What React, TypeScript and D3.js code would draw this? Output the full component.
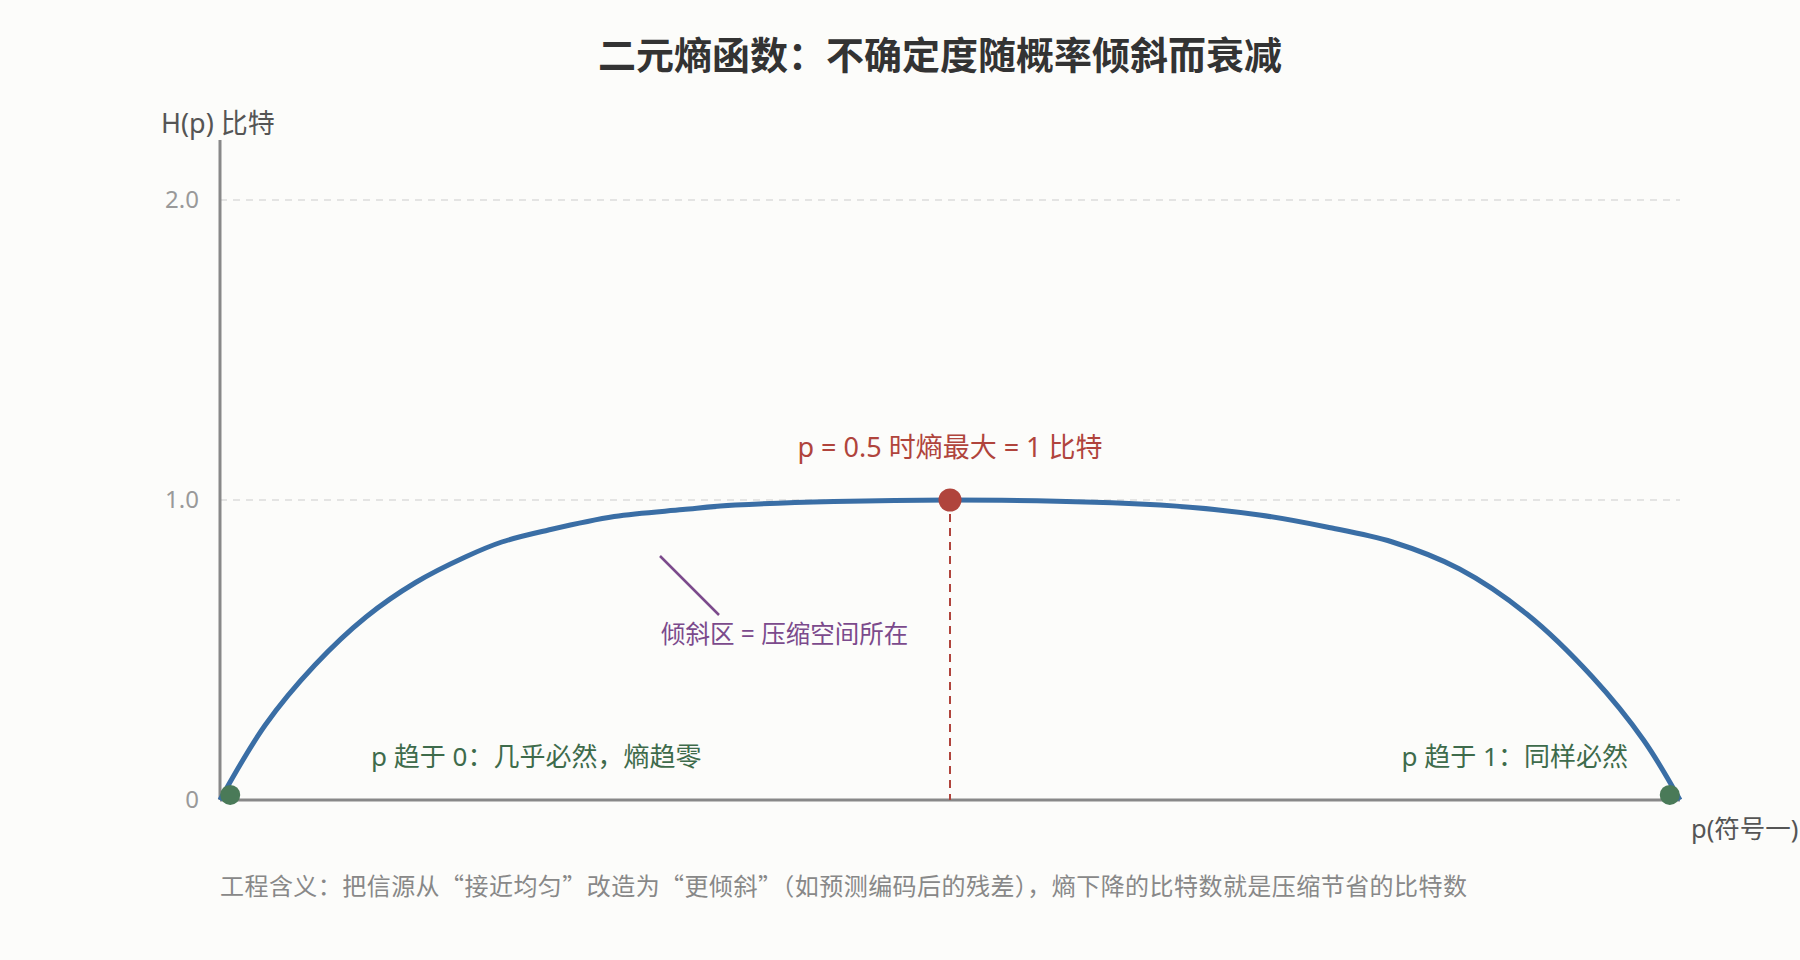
import React from "react";
import * as d3 from "d3";

const curveP = [0, 0.031, 0.065, 0.1, 0.134, 0.168, 0.193, 0.225, 0.27, 0.317, 0.353, 0.5, 0.644, 0.712, 0.758, 0.803, 0.849, 0.895, 0.94, 0.975, 1.0];
const curveH = [0, 0.25, 0.45, 0.61, 0.725, 0.81, 0.86, 0.9, 0.945, 0.968, 0.983, 1.0, 0.983, 0.95, 0.91, 0.86, 0.77, 0.62, 0.41, 0.2, 0];
const yTicks = [0, 1, 2];
const yTickLabels = ["0", "1.0", "2.0"];
const gridTicks = [1, 2];
const peakPoint = { p: 0.5, h: 1.0 };
const endPoints = [
  { p: 0.007, h: 0.017 },
  { p: 0.993, h: 0.017 },
];

const title = "二元熵函数：不确定度随概率倾斜而衰减";
const yLabel = "H(p) 比特";
const xLabel = "p(符号一)";
const peakNote = "p = 0.5 时熵最大 = 1 比特";
const skewNote = "倾斜区 = 压缩空间所在";
const leftNote = "p 趋于 0：几乎必然，熵趋零";
const rightNote = "p 趋于 1：同样必然";
const footNote = "工程含义：把信源从“接近均匀”改造为“更倾斜”（如预测编码后的残差），熵下降的比特数就是压缩节省的比特数";

const FONT = "'Noto Sans', 'Noto Sans CJK SC', sans-serif";
const CJK_FONT = "'Noto Sans CJK SC', 'Noto Sans', sans-serif";

export default function App() {
  const W = 1800;
  const H = 960;
  const x = d3.scaleLinear().domain([0, 1]).range([220, 1680]);
  const y = d3.scaleLinear().domain([0, 2]).range([800, 200]);
  const pts = curveP.map((p, i) => [p, curveH[i]] as [number, number]);
  const line = d3
    .line<[number, number]>()
    .x((d) => x(d[0]))
    .y((d) => y(d[1]))
    .curve(d3.curveCatmullRom.alpha(0.5));

  return (
    <svg
      width={W}
      height={H}
      style={{ position: "absolute", left: 0, top: 0, background: "#fcfcfa" }}
      fontFamily={FONT}
    >
      <rect x={0} y={0} width={W} height={H} fill="#fcfcfa" />
      <text x={940} y={69} textAnchor="middle" fontSize={38} fontWeight="bold" fill="#333">
        {title}
      </text>

      {gridTicks.map((t) => (
        <line
          key={t}
          x1={x(0)}
          x2={x(1)}
          y1={y(t)}
          y2={y(t)}
          stroke="#dcdcdc"
          strokeWidth={1.5}
          strokeDasharray="7,6"
        />
      ))}

      {yTicks.map((t, i) => (
        <text
          key={t}
          x={199}
          y={y(t)}
          dy="0.35em"
          textAnchor="end"
          fontSize={24}
          fill="#999"
        >
          {yTickLabels[i]}
        </text>
      ))}

      <line x1={x(0)} x2={x(0)} y1={140} y2={y(0)} stroke="#888" strokeWidth={3} />
      <line x1={x(0)} x2={x(1)} y1={y(0)} y2={y(0)} stroke="#888" strokeWidth={3} />

      <text x={161} y={133} fontSize={27} fill="#555">
        {yLabel}
      </text>
      <text x={1691} y={838} fontSize={25.5} fill="#555">
        {xLabel}
      </text>

      <line
        x1={x(peakPoint.p)}
        x2={x(peakPoint.p)}
        y1={y(peakPoint.h)}
        y2={y(0)}
        stroke="#b0443c"
        strokeWidth={2}
        strokeDasharray="8,6"
      />

      <path d={line(pts) || ""} fill="none" stroke="#3a6ea5" strokeWidth={5} />

      <circle cx={x(peakPoint.p)} cy={y(peakPoint.h)} r={11.5} fill="#b0443c" />
      {endPoints.map((d, i) => (
        <circle key={i} cx={x(d.p)} cy={y(d.h)} r={10} fill="#4a7a58" />
      ))}

      <text x={950} y={457} textAnchor="middle" fontSize={27} fill="#b0443c">
        {peakNote}
      </text>

      <line x1={660} y1={556} x2={719} y2={615} stroke="#7b4a8c" strokeWidth={2.5} />
      <text x={661} y={643} fontSize={24.5} fill="#7b4a8c">
        {skewNote}
      </text>

      <text x={371} y={766} fontSize={26} fill="#3e6b4b">
        {leftNote}
      </text>
      <text x={1628} y={766} textAnchor="end" fontSize={26} fill="#3e6b4b">
        {rightNote}
      </text>

      <text x={220} y={895} fontSize={24} fill="#888" fontFamily={CJK_FONT} letterSpacing={0.45}>
        {footNote}
      </text>
    </svg>
  );
}
